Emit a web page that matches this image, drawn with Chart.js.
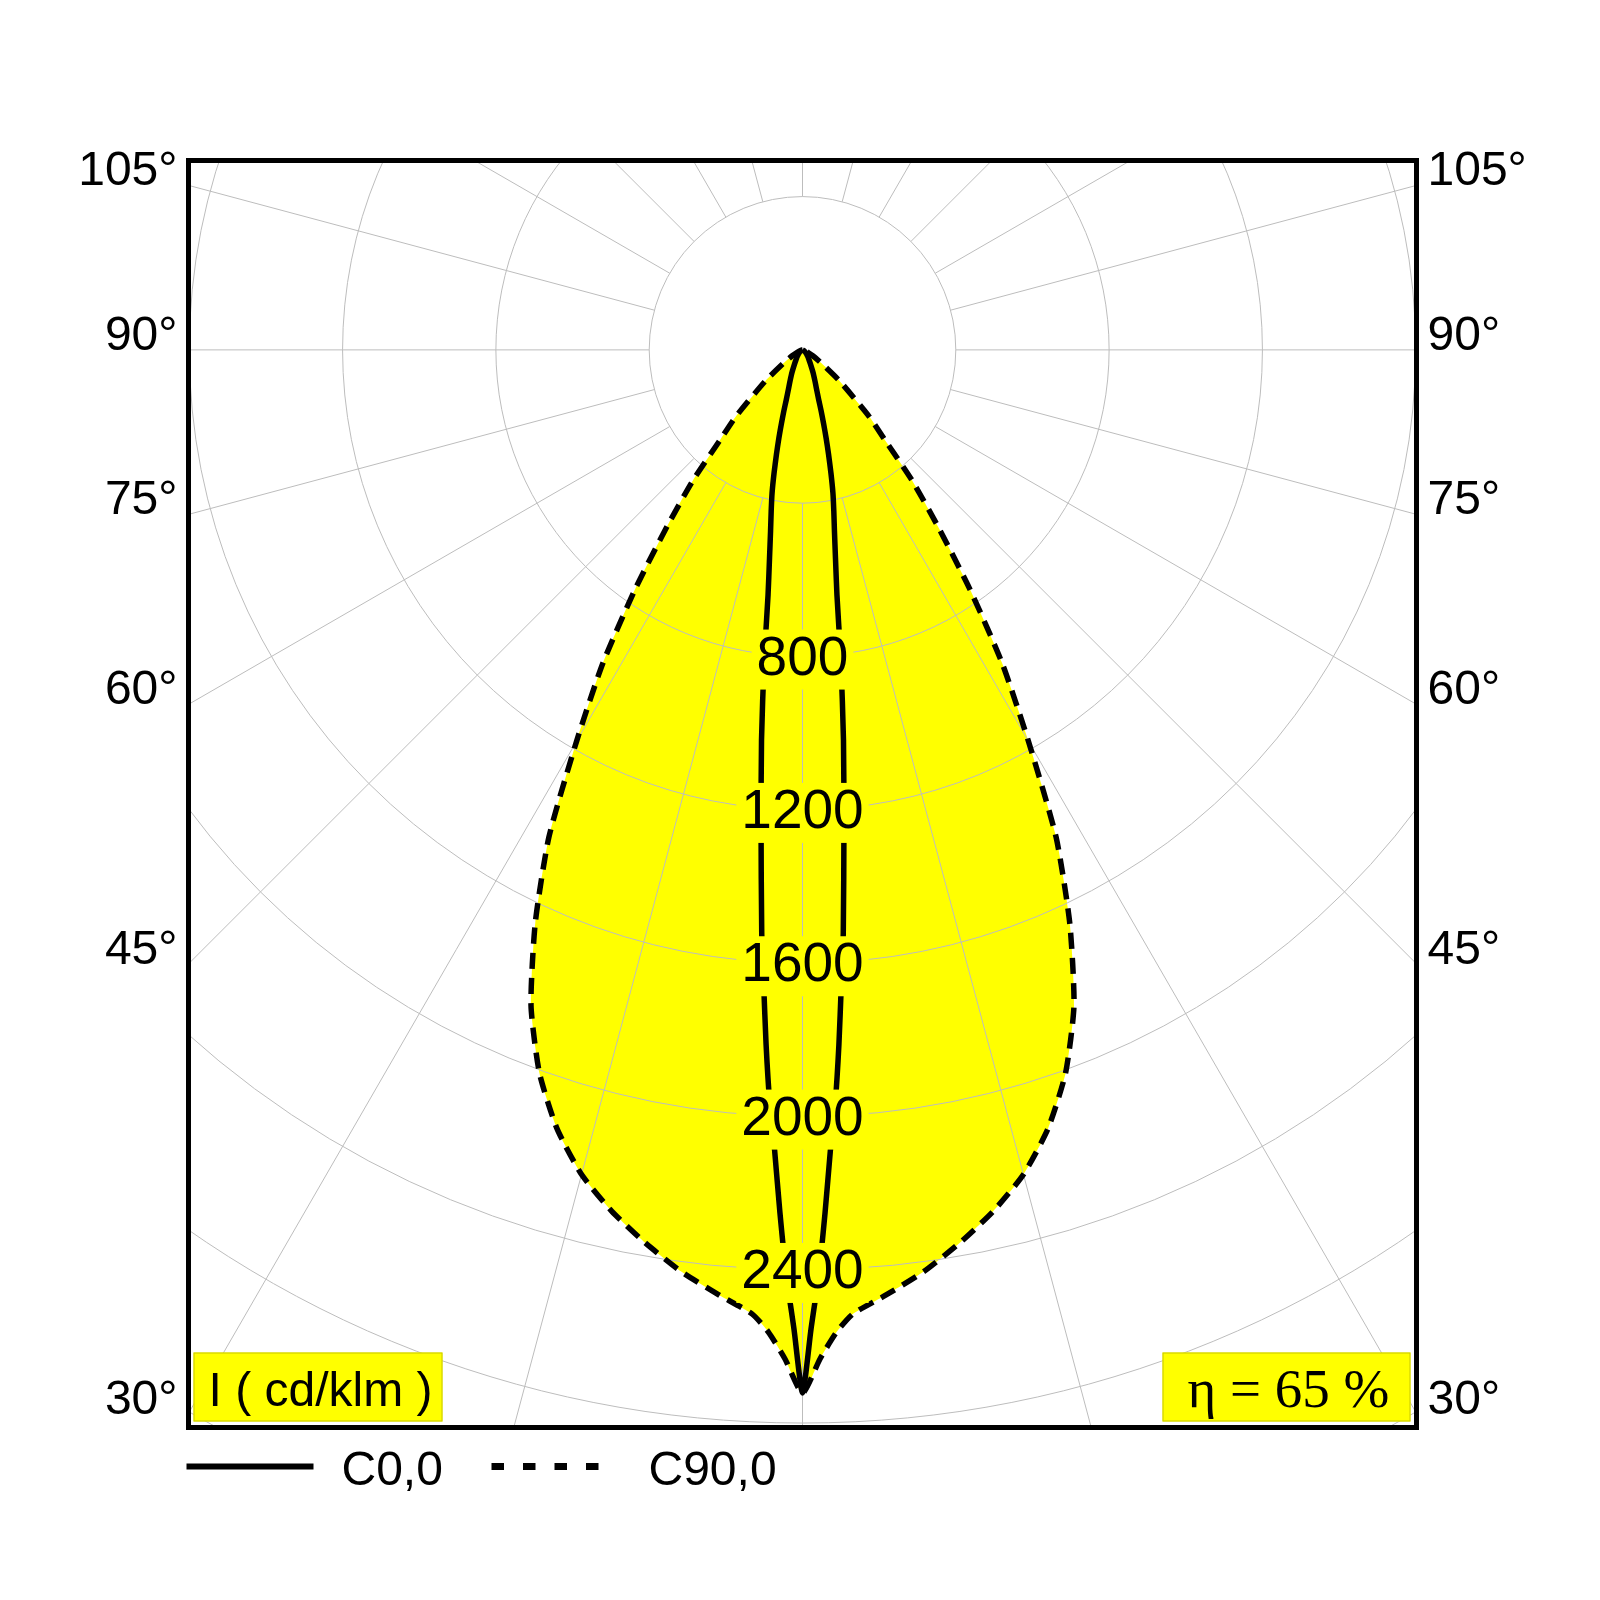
<!DOCTYPE html>
<html>
<head>
<meta charset="utf-8">
<title>LDC</title>
<script src="https://cdn.jsdelivr.net/npm/chart.js@4.4.1/dist/chart.umd.min.js"></script>
<style>
  html, body { margin: 0; padding: 0; background: #fff; }
  #wrap { width: 1600px; height: 1600px; }
</style>
</head>
<body>
<div id="wrap"><canvas id="ldc" width="1600" height="1600"></canvas></div>
<script>
// ===== Diagrama polar de intensidade (cd/klm) =====

// angulos em graus a partir da vertical para baixo
const c0Angles = [0, 0.5, 1, 1.5, 2, 2.5, 3, 3.5, 4, 5, 6, 7, 8, 9, 10, 11, 12, 13, 14, 15, 16, 17, 18, 20, 22, 25, 30, 35, 40, 50, 60, 90];
const c0Values = [2721, 2554, 2415, 2251, 2088, 1964, 1815, 1659, 1525, 1241, 1023, 823, 646, 550, 480, 428, 382, 330, 281, 238, 199, 166, 137, 105, 86, 65, 40, 28, 20, 10, 5, 0];

const c90Angles = [0, 1, 2, 3, 5, 7.5, 10, 12.5, 15, 17.5, 20, 22.5, 25, 27.5, 30, 32.5, 35, 37.5, 40, 42.5, 45, 50, 55, 60, 65, 70, 75, 80, 85, 90];
const c90Values = [2721, 2632, 2563, 2518, 2476, 2425, 2365, 2301, 2227, 2130, 2007, 1851, 1650, 1433, 1179, 970, 760, 580, 445, 317, 246, 127, 60, 32, 16, 8, 4, 2, 1, 0];

const ringValues = [400, 800, 1200, 1600, 2000, 2400, 2800, 3200, 3600];
const ringLabels = [800, 1200, 1600, 2000, 2400];
const angleTicks = [105, 90, 75, 60, 45, 30];
const angleTickLabels = ['105°', '90°', '75°', '60°', '45°', '30°'];
const spokeStep = 15;

const seriesNames = ['C0,0', 'C90,0'];
const unitLabel = 'I ( cd/klm )';
const efficiencyLabel = 'η = 65 %';

const X_MAX = 1602;
const Y_MAX = 494;
const Y_MIN = -2811;

const SANS = '"Liberation Sans", Arial, Helvetica, sans-serif';
const SERIF = '"Liberation Serif", "Times New Roman", serif';

// curva simetrica: lado esquerdo (90 -> 0) e direito (0 -> 90)
function polarPoints(angles, values) {
  const pts = [];
  for (let i = angles.length - 1; i >= 0; i--) {
    const a = angles[i] * Math.PI / 180;
    pts.push({ x: -values[i] * Math.sin(a), y: -values[i] * Math.cos(a) });
  }
  for (let i = 1; i < angles.length; i++) {
    const a = angles[i] * Math.PI / 180;
    pts.push({ x: values[i] * Math.sin(a), y: -values[i] * Math.cos(a) });
  }
  return pts;
}

const c0Points = polarPoints(c0Angles, c0Values);
const c90Points = polarPoints(c90Angles, c90Values);

const FILL_INDEX = 2;

const polarDecor = {
  id: 'polarDecor',
  afterDatasetDraw(chart, args) {
    if (args.index !== FILL_INDEX) return;
    const { ctx, chartArea: ca, scales: { x, y } } = chart;
    const cx = x.getPixelForValue(0);
    const cy = y.getPixelForValue(0);
    const k = x.getPixelForValue(1000) - cx;
    ctx.save();
    ctx.beginPath();
    ctx.rect(ca.left, ca.top, ca.right - ca.left, ca.bottom - ca.top);
    ctx.clip();
    ctx.strokeStyle = '#bdbdbd';
    ctx.lineWidth = 1;
    ringValues.forEach(v => {
      ctx.beginPath();
      ctx.arc(cx, cy, v * k / 1000, 0, Math.PI * 2);
      ctx.stroke();
    });
    const r0 = ringValues[0] * k / 1000;
    for (let deg = 0; deg < 360; deg += spokeStep) {
      const a = deg * Math.PI / 180;
      const dx = Math.sin(a), dy = Math.cos(a);
      ctx.beginPath();
      ctx.moveTo(cx + dx * r0, cy + dy * r0);
      ctx.lineTo(cx + dx * 3000, cy + dy * 3000);
      ctx.stroke();
    }
    ctx.restore();
  },
  afterDraw(chart) {
    const { ctx, chartArea: ca, scales: { x, y } } = chart;
    const cx = x.getPixelForValue(0);
    ctx.save();

    // rotulos dos aneis
    ctx.font = '55px ' + SANS;
    ctx.textAlign = 'center';
    ctx.textBaseline = 'middle';
    ringLabels.forEach(v => {
      const py = y.getPixelForValue(-v);
      const w = ctx.measureText(String(v)).width + 10;
      ctx.fillStyle = '#ffff00';
      ctx.fillRect(cx - w / 2, py - 27, w, 60);
      ctx.fillStyle = '#000';
      ctx.fillText(String(v), cx, py + 3);
    });

    // moldura
    ctx.strokeStyle = '#000';
    ctx.lineWidth = 5;
    ctx.strokeRect(ca.left, ca.top, ca.right - ca.left, ca.bottom - ca.top);

    // rotulos de angulo
    ctx.font = '48px ' + SANS;
    ctx.textBaseline = 'alphabetic';
    ctx.fillStyle = '#000';
    angleTicks.forEach((deg, i) => {
      const a = deg * Math.PI / 180;
      const py = y.getPixelForValue(-X_MAX * Math.cos(a) / Math.sin(a));
      ctx.textAlign = 'right';
      ctx.fillText(angleTickLabels[i], ca.left - 11, py);
      ctx.textAlign = 'left';
      ctx.fillText(angleTickLabels[i], ca.right + 11, py);
    });

    // caixas amarelas
    ctx.fillStyle = '#ffff00';
    ctx.strokeStyle = '#c8c800';
    ctx.lineWidth = 1;
    const bTop = ca.bottom - 75;
    ctx.fillRect(ca.left + 5, bTop, 249, 69);
    ctx.strokeRect(ca.left + 5.5, bTop + 0.5, 248, 68);
    const rLeft = ca.right - 6 - 248;
    ctx.fillRect(rLeft, bTop, 248, 69);
    ctx.strokeRect(rLeft + 0.5, bTop + 0.5, 247, 68);
    ctx.fillStyle = '#000';
    ctx.font = '48px ' + SANS;
    ctx.textAlign = 'left';
    ctx.fillText(unitLabel, ca.left + 20, ca.bottom - 22);
    ctx.font = '55px ' + SERIF;
    ctx.textAlign = 'center';
    ctx.fillText(efficiencyLabel, rLeft + 124 + 2, ca.bottom - 21);

    // legenda
    const ly = ca.bottom + 39;
    ctx.strokeStyle = '#000';
    ctx.lineWidth = 6;
    ctx.beginPath();
    ctx.moveTo(ca.left - 2, ly);
    ctx.lineTo(ca.left + 125, ly);
    ctx.stroke();
    ctx.lineWidth = 7;
    ctx.setLineDash([12.5, 19]);
    ctx.beginPath();
    ctx.moveTo(ca.left + 303, ly);
    ctx.lineTo(ca.left + 412, ly);
    ctx.stroke();
    ctx.setLineDash([]);
    ctx.font = '48px ' + SANS;
    ctx.textAlign = 'left';
    ctx.fillText(seriesNames[0], ca.left + 153, ca.bottom + 57);
    ctx.fillText(seriesNames[1], ca.left + 460, ca.bottom + 57);

    ctx.restore();
  }
};

new Chart(document.getElementById('ldc'), {
  type: 'scatter',
  data: {
    datasets: [
      {
        label: seriesNames[0],
        data: c0Points,
        showLine: true,
        borderColor: '#000',
        borderWidth: 5.5,
        pointRadius: 0,
        tension: 0.2,
        fill: false,
        order: 1,
      },
      {
        label: seriesNames[1],
        data: c90Points,
        showLine: true,
        borderColor: '#000',
        borderWidth: 5.5,
        borderDash: [16, 9],
        pointRadius: 0,
        tension: 0.2,
        fill: false,
        order: 2,
      },
      {
        label: 'fill',
        data: c90Points,
        showLine: true,
        borderWidth: 0,
        borderColor: 'rgba(0,0,0,0)',
        backgroundColor: '#ffff00',
        pointRadius: 0,
        tension: 0.2,
        fill: 'shape',
        order: 3,
      },
    ],
  },
  options: {
    responsive: false,
    animation: false,
    devicePixelRatio: 1,
    layout: { padding: { left: 188.5, right: 183.5, top: 160.5, bottom: 172.5 } },
    scales: {
      x: { type: 'linear', min: -X_MAX, max: X_MAX, display: false },
      y: { type: 'linear', min: Y_MIN, max: Y_MAX, display: false },
    },
    plugins: {
      legend: { display: false },
      tooltip: { enabled: false },
    },
  },
  plugins: [polarDecor],
});
</script>
</body>
</html>
